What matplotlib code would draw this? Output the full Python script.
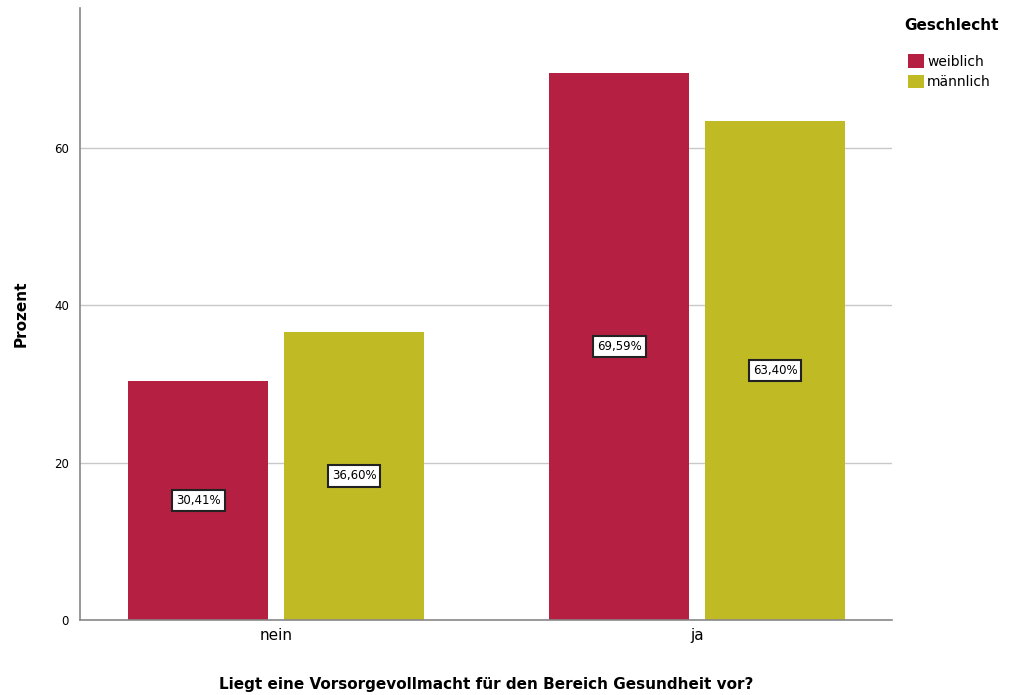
import matplotlib.pyplot as plt
import numpy as np

categories = ['nein', 'ja']
groups = ['weiblich', 'männlich']
values = {
    'weiblich': [30.41, 69.59],
    'männlich': [36.60, 63.40],
}
colors = {'weiblich': '#b51f42', 'männlich': '#c0bb25'}

fig = plt.figure(figsize=(10.1, 6.95), dpi=100)
ax = fig.add_axes([0.0792, 0.108, 0.804, 0.8805])

x = np.arange(len(categories))
width = 0.333
offsets = [-0.185, 0.185]

for g, off in zip(groups, offsets):
    bars = ax.bar(x + off, values[g], width, color=colors[g], label=g, zorder=2)
    for b, v in zip(bars, values[g]):
        ax.text(b.get_x() + b.get_width() / 2, v / 2, f'{v:.2f}%'.replace('.', ','),
                ha='center', va='center', fontsize=8.5, zorder=3,
                bbox=dict(boxstyle='square,pad=0.35', fc='white', ec='#222222', lw=1.5))

ax.set_xlim(-0.466, 1.463)
ax.set_ylim(0, 77.8)
ax.set_yticks([0, 20, 40, 60])
ax.set_xticks(x)
ax.set_xticklabels(categories, fontsize=11)
ax.tick_params(axis='y', labelsize=8.5, length=0, pad=8)
ax.tick_params(axis='x', length=0, pad=6)
ax.yaxis.grid(True, color='#c8c8c8', lw=1, zorder=0)
ax.set_axisbelow(True)
for s in ['top', 'right']:
    ax.spines[s].set_visible(False)
for s in ['left', 'bottom']:
    ax.spines[s].set_color('#888888')
    ax.spines[s].set_linewidth(1.2)

ax.set_ylabel('Prozent', fontsize=11, fontweight='bold', labelpad=18)
ax.set_xlabel('Liegt eine Vorsorgevollmacht für den Bereich Gesundheit vor?',
              fontsize=11, fontweight='bold', labelpad=24)

fig.text(0.895, 0.963, 'Geschlecht', fontsize=11, fontweight='bold', va='center')
fig.legend(loc='upper left', bbox_to_anchor=(0.887, 0.94), frameon=False,
           fontsize=10, handlelength=1.1, handleheight=1.1, handletextpad=0.25,
           labelspacing=0.45)

fig.savefig('out.png', dpi=100)
